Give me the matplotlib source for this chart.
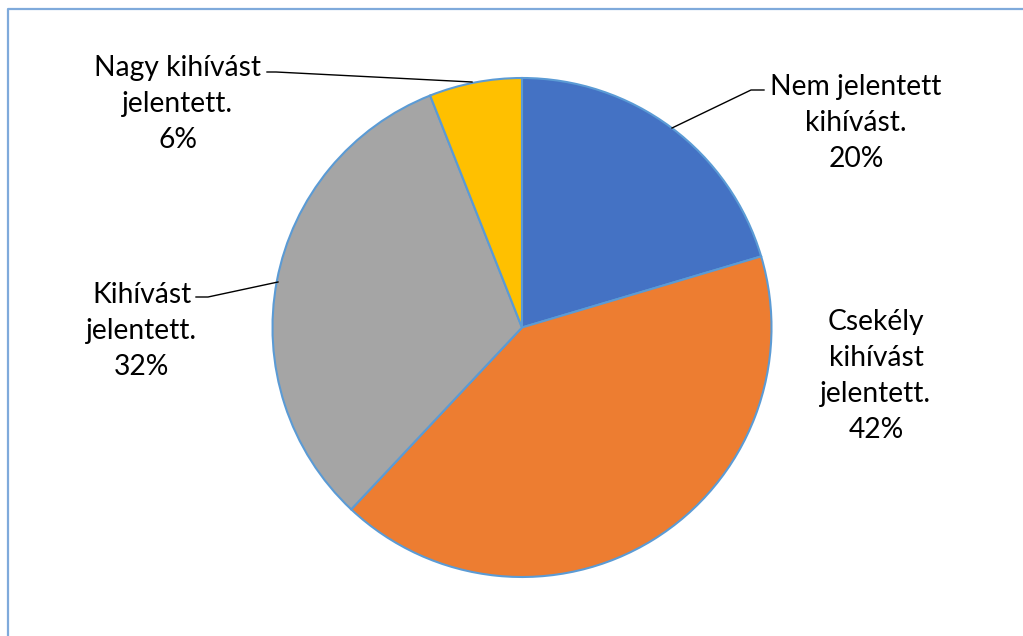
import matplotlib
matplotlib.use("Agg")
import matplotlib.pyplot as plt

W, H = 1023, 636

labels = ["Nem jelentett\nkihívást.", "Csekély\nkihívást\njelentett.", "Kihívást\njelentett.", "Nagy kihívást\njelentett."]
values = [20.4, 41.6, 32.0, 6.0]
colors = ["#4472C4", "#ED7D31", "#A5A5A5", "#FFC000"]

fig = plt.figure(figsize=(W / 100, H / 100), dpi=100)
ax = fig.add_axes([0, 0, 1, 1])
ax.set_xlim(0, W)
ax.set_ylim(0, H)
ax.set_aspect("equal")
ax.axis("off")

def Y(y):
    return H - y

cx, cy, r = 522, 327.5, 249.5
ax.pie(values, colors=colors, startangle=90, counterclock=False,
       center=(cx, Y(cy)), radius=r,
       wedgeprops=dict(edgecolor="#5B9BD5", linewidth=1.5))
ax.set_xlim(0, W)
ax.set_ylim(0, H)

# frame (left and top)
ax.plot([8, 8, W], [0, Y(9), Y(9)], color="#7FAADB", lw=1.6, solid_capstyle="butt")

label_pos = [(856, 123), (876, 376), (142, 331), (178, 104)]
font = dict(family="Lato", fontsize=20.3, color="black", ha="center", va="center", linespacing=1.47)
for lab, v, (x, y) in zip(labels, values, label_pos):
    ax.text(x, Y(y), f"{lab}\n{round(v)}%", **font)

# leader lines
leaders = [
    [(672, 128), (751, 90), (764, 90)],
    [(278, 282), (208, 297), (196, 297)],
    [(472, 82), (276, 72), (267, 72)],
]
for pts in leaders:
    ax.plot([p[0] for p in pts], [Y(p[1]) for p in pts], color="black", lw=1.0)

fig.savefig("out.png", dpi=100)
